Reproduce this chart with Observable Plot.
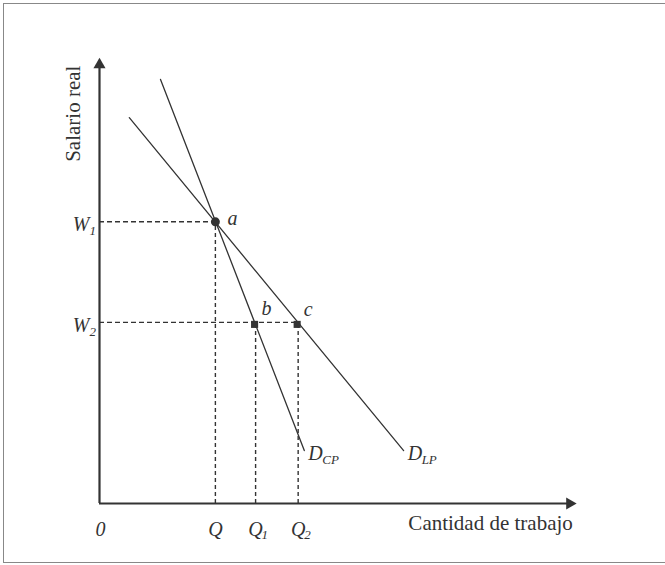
<!DOCTYPE html>
<html>
<head>
<meta charset="utf-8">
<script src="https://cdn.jsdelivr.net/npm/d3@7"></script>
<script src="https://cdn.jsdelivr.net/npm/@observablehq/plot@0.6"></script>
<style>
  html, body { margin: 0; padding: 0; background: #fff; overflow: hidden; }
  #wrap { position: relative; width: 665px; height: 565px; overflow: hidden; }
  #frame { position: absolute; left: 3px; top: 3px; width: 700px; height: 560px; border-top: 1.5px solid #888; border-left: 1.5px solid #888; border-bottom: 1.5px solid #888; border-right: none; box-sizing: border-box; pointer-events: none; }
  #chart { position: absolute; left: 0; top: 0; }
</style>
</head>
<body>
<div id="wrap"><div id="chart"></div><div id="frame"></div></div>
<script>
// Curves (endpoints of linear demand curves)
const dcpLine = [{x: 12.9, y: 95.3}, {x: 43.3, y: 11.9}];
const dlpLine = [{x: 6.3, y: 86.7}, {x: 64.3, y: 11.9}];

// Equilibrium points
const pointNames = ["a", "b", "c"];
const pointX = [24.5, 33, 42];
const pointY = [63.3, 40.7, 40.7];

// Tick labels
const wLabels = ["W", "W"];
const wSubs = ["1", "2"];
const wValues = [63.3, 40.7];
const wEnds = [24.5, 42];
const qLabels = ["Q", "Q", "Q"];
const qSubs = ["", "1", "2"];
const qValues = [24.5, 33, 42];

// Curve labels
const curveLabels = ["D", "D"];
const curveSubs = ["CP", "LP"];
const curveLabelX = [43.3, 64.3];
const curveLabelY = [11.9, 11.9];

const xTitle = "Cantidad de trabajo";
const yTitle = "Salario real";
const originLabel = "0";

const points = pointNames.map((n, i) => ({name: n, x: pointX[i], y: pointY[i]}));
const wTicks = wLabels.map((l, i) => ({label: l, sub: wSubs[i], y: wValues[i], x2: wEnds[i]}));
const qTicks = qLabels.map((l, i) => ({label: l, sub: qSubs[i], x: qValues[i]}));
const curveLabs = curveLabels.map((l, i) => ({label: l, sub: curveSubs[i], x: curveLabelX[i], y: curveLabelY[i]}));

const ink = "#333";
const dash = "5,3";
const it = {fontStyle: "italic", fill: ink};

const chart = Plot.plot({
  width: 665,
  height: 565,
  margin: 0,
  style: {fontFamily: "'Liberation Serif', 'Times New Roman', serif", background: "transparent", color: ink},
  x: {domain: [0, 100], range: [99, 572], axis: null},
  y: {domain: [0, 100], range: [503, 58], axis: null},
  marks: [
    // dashed guides
    Plot.ruleY(wTicks, {y: "y", x1: 0, x2: "x2", stroke: ink, strokeWidth: 1.4, strokeDasharray: dash}),
    Plot.ruleX(points, {x: "x", y1: 0, y2: "y", stroke: ink, strokeWidth: 1.4, strokeDasharray: "4,3"}),
    // axes
    Plot.ruleX([0], {y1: 0, y2: 98, stroke: ink, strokeWidth: 2.2}),
    Plot.ruleY([0], {x1: 0, x2: 99, stroke: ink, strokeWidth: 2.2}),
    Plot.dot([{x: 0, y: 98.6}], {x: "x", y: "y", symbol: "triangle", r: 4.5, fill: ink, stroke: "none"}),
    Plot.dot([{x: 99.4, y: 0}], {x: "x", y: "y", symbol: "triangle", r: 4.5, fill: ink, stroke: "none", rotate: 90}),
    // demand curves
    Plot.line(dcpLine, {x: "x", y: "y", stroke: ink, strokeWidth: 1.3}),
    Plot.line(dlpLine, {x: "x", y: "y", stroke: ink, strokeWidth: 1.3}),
    // points
    Plot.dot(points.slice(0, 1), {x: "x", y: "y", symbol: "circle", r: 4.5, fill: ink, stroke: "none"}),
    Plot.dot(points.slice(1), {x: "x", y: "y", symbol: "square", r: 4, fill: ink, stroke: "none", dx: -1, dy: 2}),
    Plot.text(points.slice(0, 1), {x: "x", y: "y", text: "name", dx: 17, dy: -3, fontSize: 20, ...it}),
    Plot.text(points.slice(1, 2), {x: "x", y: "y", text: "name", dx: 11, dy: -14, fontSize: 20, ...it}),
    Plot.text(points.slice(2, 3), {x: "x", y: "y", text: "name", dx: 10, dy: -13, fontSize: 20, ...it}),
    // W labels
    Plot.text(wTicks, {x: 0, y: "y", text: "label", textAnchor: "end", dx: -10, dy: 3, fontSize: 20, ...it}),
    Plot.text(wTicks, {x: 0, y: "y", text: "sub", textAnchor: "start", dx: -10, dy: 9, fontSize: 13, ...it}),
    // Q labels
    Plot.text(qTicks, {x: "x", y: 0, text: "label", textAnchor: "middle", dx: 0, dy: 26, fontSize: 20, ...it}),
    Plot.text(qTicks, {x: "x", y: 0, text: "sub", textAnchor: "start", dx: 6, dy: 31, fontSize: 13, ...it}),
    // origin
    Plot.text([originLabel], {x: 0, y: 0, text: d => d, dx: 1, dy: 26, fontSize: 20, ...it}),
    // curve labels
    Plot.text(curveLabs, {x: "x", y: "y", text: "label", textAnchor: "start", dx: 4, dy: 3, fontSize: 20, ...it}),
    Plot.text(curveLabs, {x: "x", y: "y", text: "sub", textAnchor: "start", dx: 18, dy: 9, fontSize: 13, ...it}),
    // axis titles
    Plot.text([xTitle], {x: 65.3, y: 0, text: d => d, textAnchor: "start", dy: 20, fontSize: 21, fill: ink}),
    Plot.text([yTitle], {x: 0, y: 98.4, text: d => d, textAnchor: "end", rotate: -90, dx: -26, fontSize: 21, fill: ink})
  ]
});
document.getElementById("chart").appendChild(chart);
</script>
</body>
</html>
